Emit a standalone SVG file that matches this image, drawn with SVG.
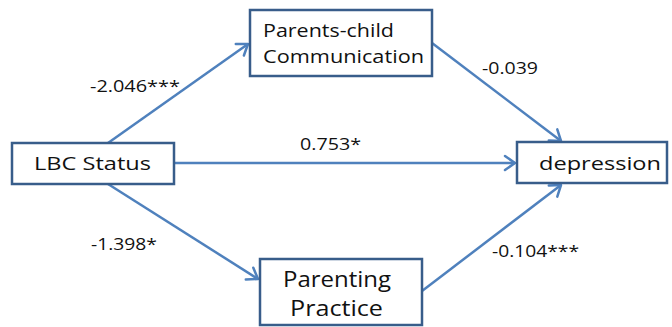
<svg xmlns="http://www.w3.org/2000/svg" width="672" height="327" viewBox="0 0 672 327">
  <defs>
    <style>
      .box { fill: #ffffff; stroke: #385D8A; stroke-width: 2.5; }
      .edge { fill: none; stroke: #4F81BD; stroke-width: 2.5; }
      .node-text { font-family: "Open Sans", "DejaVu Sans", sans-serif; font-size: 19px; fill: #111111; }
      .big-text { font-family: "Open Sans", "DejaVu Sans", sans-serif; font-size: 21px; fill: #111111; }
      .label { font-family: "Open Sans", "DejaVu Sans", sans-serif; font-size: 16.5px; fill: #111111; }
    </style>
    <marker id="open-arrow" markerUnits="userSpaceOnUse" markerWidth="20" markerHeight="20" viewBox="-14 -10 20 20" refX="0" refY="0" orient="auto">
      <path d="M-10,-7 L0,0 L-10,7" fill="none" stroke="#4F81BD" stroke-width="2.5" stroke-linecap="round" stroke-linejoin="round"/>
    </marker>
  </defs>

  <!-- connectors -->
  <g id="connectors">
    <line class="edge" x1="108" y1="143" x2="248" y2="44" marker-end="url(#open-arrow)"/>
    <line class="edge" x1="432" y1="43" x2="561" y2="141" marker-end="url(#open-arrow)"/>
    <line class="edge" x1="174" y1="163" x2="515" y2="163" marker-end="url(#open-arrow)"/>
    <line class="edge" x1="108" y1="184" x2="258" y2="279" marker-end="url(#open-arrow)"/>
    <line class="edge" x1="422" y1="291" x2="561" y2="185" marker-end="url(#open-arrow)"/>
  </g>

  <!-- path coefficients -->
  <g id="edge-labels">
    <text class="label" x="90" y="91.5" textLength="90" lengthAdjust="spacingAndGlyphs">-2.046***</text>
    <text class="label" x="300" y="149.5" textLength="61" lengthAdjust="spacingAndGlyphs">0.753*</text>
    <text class="label" x="482" y="74" textLength="56" lengthAdjust="spacingAndGlyphs">-0.039</text>
    <text class="label" x="91" y="249.5" textLength="66" lengthAdjust="spacingAndGlyphs">-1.398*</text>
    <text class="label" x="492" y="257" textLength="87" lengthAdjust="spacingAndGlyphs">-0.104***</text>
  </g>

  <g id="node-lbc">
    <rect class="box" x="12" y="143" width="162" height="41"/>
    <text class="node-text" x="34" y="170" textLength="117" lengthAdjust="spacingAndGlyphs">LBC Status</text>
  </g>

  <g id="node-communication">
    <rect class="box" x="250" y="10" width="182" height="66"/>
    <text class="node-text" x="263" y="37" textLength="131" lengthAdjust="spacingAndGlyphs">Parents-child</text>
    <text class="node-text" x="263" y="63" textLength="161" lengthAdjust="spacingAndGlyphs">Communication</text>
  </g>

  <g id="node-depression">
    <rect class="box" x="517" y="142" width="150" height="41"/>
    <text class="node-text" x="539" y="170" textLength="122" lengthAdjust="spacingAndGlyphs">depression</text>
  </g>

  <g id="node-parenting">
    <rect class="box" x="260" y="259" width="162" height="66"/>
    <text class="big-text" x="283" y="287" textLength="108" lengthAdjust="spacingAndGlyphs">Parenting</text>
    <text class="big-text" x="290" y="316" textLength="93" lengthAdjust="spacingAndGlyphs">Practice</text>
  </g>
</svg>
